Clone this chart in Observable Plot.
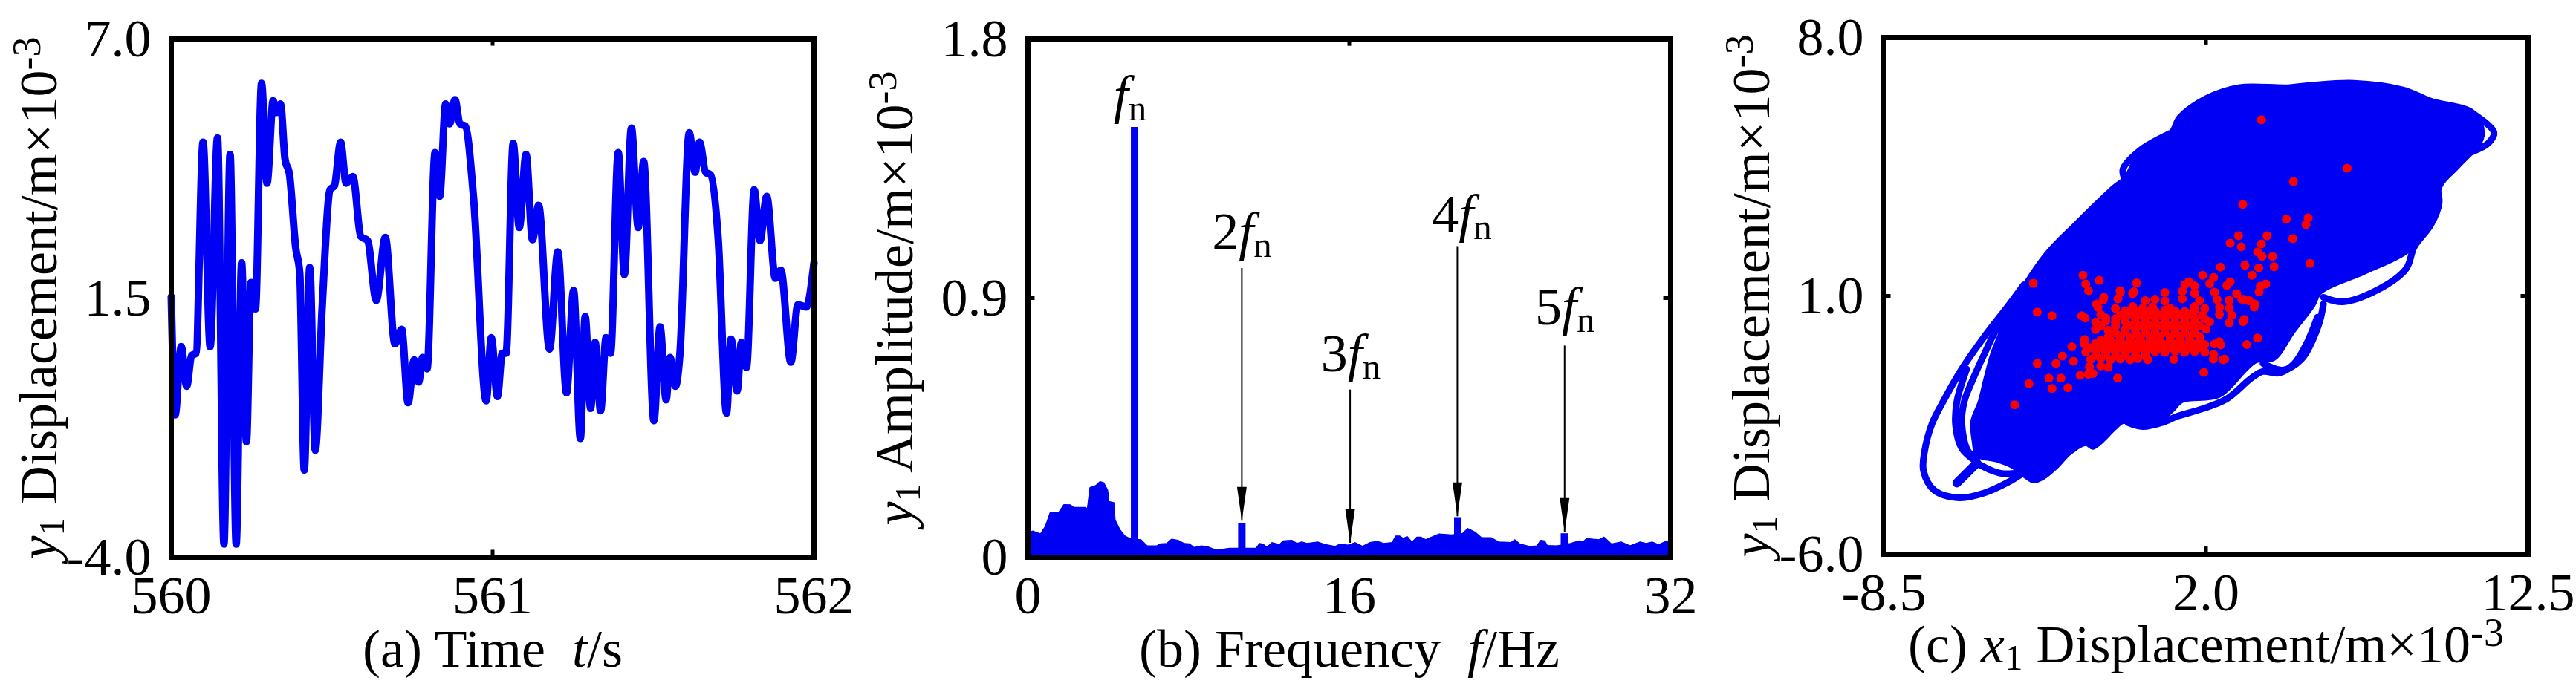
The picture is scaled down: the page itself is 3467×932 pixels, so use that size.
<!DOCTYPE html>
<html><head><meta charset="utf-8">
<script src="https://cdn.jsdelivr.net/npm/d3@7"></script>
<script src="https://cdn.jsdelivr.net/npm/@observablehq/plot@0.6"></script>
<style>
html,body{margin:0;padding:0;background:#fff}
#row{display:flex;width:3467px;height:932px;overflow:hidden}
svg{display:block;flex:none;font-family:"Liberation Serif",serif;color:#000}
</style></head><body><div id="row"></div>
<script>
const BLUE = "#0000f5", RED = "#ff0000";

// (a) time series: [t, y1]
const timeSeries = [[560,1.53],[560.012,-0.98],[560.031,0.47],[560.048,-0.37],[560.063,0.28],[560.077,0.33],[560.099,4.81],[560.121,0.47],[560.144,4.90],[560.164,-3.72],[560.183,4.55],[560.202,-3.72],[560.219,2.25],[560.234,-1.55],[560.248,1.83],[560.262,1.27],[560.281,6.06],[560.298,3.94],[560.317,5.69],[560.327,5.44],[560.340,5.62],[560.354,4.45],[560.368,4.12],[560.387,2.58],[560.400,2.02],[560.414,-2.15],[560.431,2.15],[560.448,-1.73],[560.470,1.36],[560.494,3.80],[560.508,3.89],[560.527,4.81],[560.544,3.94],[560.565,4.08],[560.590,2.81],[560.611,2.72],[560.638,1.45],[560.666,2.79],[560.696,0.53],[560.717,0.84],[560.737,-0.72],[560.756,0.19],[560.770,-0.28],[560.782,0.24],[560.796,0.00],[560.821,4.59],[560.835,3.66],[560.854,5.62],[560.866,5.20],[560.883,5.71],[560.898,5.20],[560.915,5.15],[560.941,3.61],[560.980,-0.68],[560.996,0.66],[561.015,-0.59],[561.030,0.33],[561.042,0.33],[561.064,4.78],[561.083,3.00],[561.104,4.55],[561.124,2.74],[561.143,3.47],[561.177,0.42],[561.203,2.48],[561.230,-0.51],[561.252,1.66],[561.273,-1.48],[561.288,1.11],[561.305,-0.84],[561.319,0.56],[561.336,-0.89],[561.353,0.66],[561.367,0.33],[561.391,4.59],[561.410,2.00],[561.432,5.11],[561.453,3.00],[561.470,4.40],[561.502,-1.10],[561.521,0.89],[561.540,-0.66],[561.552,0.24],[561.569,-0.37],[561.583,0.33],[561.612,5.01],[561.630,4.17],[561.644,4.81],[561.663,4.17],[561.678,4.12],[561.702,2.76],[561.728,-0.94],[561.742,0.63],[561.761,-0.47],[561.774,0.56],[561.790,0.03],[561.814,3.80],[561.832,2.72],[561.853,3.66],[561.880,1.92],[561.897,2.09],[561.928,0.14],[561.950,1.36],[561.976,1.31],[562,2.25]];

// (b) spectrum envelope: [f, amplitude]
const spectrum = [[0,.086],[.26,.090],[.63,.080],[.88,.107],[1.12,.155],[1.55,.156],[1.80,.182],[2.11,.181],[2.29,.172],[2.85,.172],[2.97,.168],[3.10,.241],[3.40,.249],[3.59,.262],[3.77,.258],[3.96,.232],[4.02,.193],[4.27,.189],[4.33,.129],[4.57,.095],[4.82,.073],[5.13,.062],[5.62,.060],[5.93,.039],[6.42,.039],[6.61,.046],[6.92,.047],[7.16,.062],[7.47,.058],[7.78,.047],[8.03,.046],[8.27,.033],[8.64,.039],[9.01,.034],[9.38,.024],[10.0,.030],[10.49,.030],[10.99,.030],[11.36,.030],[11.54,.047],[11.73,.043],[11.91,.034],[12.16,.050],[12.53,.043],[12.71,.056],[13.15,.058],[13.39,.047],[13.64,.052],[13.89,.047],[14.44,.052],[14.81,.043],[15.3,.037],[15.55,.045],[15.92,.041],[16.29,.050],[16.66,.037],[17.03,.050],[17.4,.054],[17.71,.047],[18.14,.050],[18.32,.073],[18.51,.073],[18.69,.064],[18.88,.071],[19.12,.051],[19.37,.069],[19.56,.069],[19.8,.060],[20.48,.080],[21.1,.077],[21.65,.082],[21.9,.099],[22.27,.086],[22.58,.067],[23.07,.067],[23.44,.052],[24.06,.050],[24.24,.060],[24.49,.045],[24.98,.037],[25.35,.039],[25.54,.058],[25.72,.056],[25.85,.040],[26.34,.039],[27.02,.047],[27.45,.056],[27.63,.052],[27.82,.064],[28.44,.060],[28.68,.069],[29.05,.045],[29.55,.052],[29.98,.039],[30.47,.052],[30.78,.047],[31.09,.052],[31.4,.043],[31.83,.056],[32,.052]];
const peaks = [[5.31,1.493],[10.65,.116],[21.4,.138],[26.71,.082]];
const arrows = [[10.65,1.003,.126],[16.04,.581,.049],[21.38,1.079,.141],[26.72,.734,.087]];
const harmonicLabels = [[5.09,1.544,"{f}_[n]"],[10.65,1.069,"2{f}_[n]"],[16.07,.647,"3{f}_[n]"],[21.6,1.13,"4{f}_[n]"],[26.74,.808,"5{f}_[n]"]];

// (c) phase portrait: filled body and loops, [x1, y1]
const phaseBody = [[-5.47,-3.33],[-5.59,-2.93],[-5.63,-2.39],[-5.39,-1.86],[-5.23,-1.32],[-4.99,-0.58],[-4.67,0.09],[-4.34,0.69],[-3.94,1.30],[-3.21,2.17],[-2.32,2.93],[-1.06,3.94],[-0.62,4.24],[-0.17,4.96],[0.82,5.43],[1.09,5.85],[1.98,6.39],[3.06,6.69],[4.67,6.69],[5.39,6.75],[6.82,6.81],[8.43,6.63],[9.33,6.33],[10.76,5.97],[11.03,5.31],[10.22,4.48],[9.69,4.00],[9.33,2.93],[8.61,2.21],[7.18,1.62],[5.74,1.08],[5.51,0.73],[4.86,0.02],[4.22,-0.72],[3.65,-0.78],[3.33,-0.99],[2.44,-1.72],[1.23,-1.86],[0.91,-2.12],[0.42,-2.46],[-0.06,-2.53],[-0.47,-2.46],[-0.71,-2.43],[-0.95,-2.59],[-1.68,-3.13],[-1.92,-3.03],[-2.41,-3.26],[-2.89,-3.67],[-3.29,-3.94],[-3.62,-4.04],[-3.86,-3.93],[-4.34,-3.63],[-4.83,-3.47]];
const loopA = [[-4.02,-3.83],[-4.50,-4.07],[-5.23,-4.34],[-6.04,-4.47],[-6.85,-4.27],[-7.21,-3.73],[-7.17,-3.20],[-6.93,-2.46],[-6.52,-1.79],[-5.96,-0.98],[-5.23,-0.11],[-4.42,0.76],[-3.94,1.30]];
const loopB = [[-5.47,-3.50],[-5.96,-3.13],[-6.16,-2.53],[-6.12,-1.86],[-5.80,-0.98]];
const loopB2 = [[-4.34,0.62],[-4.83,0.09],[-5.23,-0.58],[-5.63,-1.32],[-5.88,-1.86],[-5.96,-2.46],[-5.76,-3.20],[-5.47,-3.40]];
const loopThin = [[-5.47,-3.53],[-4.99,-3.73],[-4.66,-3.81],[-4.10,-3.80]];
const loopC = [[5.83,0.96],[6.46,0.84],[7.54,1.14],[8.52,1.73],[8.79,2.33],[9.33,2.93],[9.60,3.52],[9.51,4.00]];
const loopD = [[5.83,0.78],[5.66,0.18],[5.12,-0.71],[4.49,-1.01],[3.86,-0.83]];
const loopE = [[-0.62,4.12],[-0.71,4.42],[-0.17,4.93],[0.82,5.40]];
const loopF = [[10.76,5.91],[11.39,5.43],[11.21,5.14],[10.67,4.90]];
const loopG = [[-0.55,-2.43],[-0.06,-2.54],[0.58,-2.43],[1.07,-2.26],[1.88,-2.06],[2.68,-1.79],[3.49,-1.22],[3.85,-1.05],[4.38,-1.09],[4.86,-0.85],[5.27,-0.31],[5.63,0.42]];
const phaseLoops = [loopA, loopB, loopB2, loopThin, loopC, loopD, loopE, loopF, loopG];
const tail = [[-6.12,-4.07],[-5.47,-3.53]];

// (c) red section points: [x1, y1]
const sectionOuter = [[3.81,5.77],[6.60,4.46],[4.85,4.10],[3.20,3.48],[4.62,3.08],[5.33,3.11],[5.26,2.93],[4.83,2.55],[5.39,1.88],[3.06,2.63],[2.79,2.43],[3.15,2.33],[3.99,2.63],[3.81,2.41],[3.68,2.19],[4.17,2.07],[3.83,2.07],[4.22,1.79],[3.72,1.76],[2.47,1.78],[3.27,1.83],[3.50,1.56],[3.77,1.26],[3.95,1.32],[2.25,1.50],[1.89,1.56],[2.79,1.38],[1.44,1.38],[-0.26,1.35],[-1.48,1.42],[-2.01,1.56],[-3.63,1.34],[-1.92,1.32],[-1.83,1.14],[-3.50,0.56],[-3.02,0.46],[-2.05,0.46],[-1.94,0.40],[-1.57,0.78],[-1.33,0.96],[-0.80,1.14],[-0.35,1.11],[3.68,-0.14],[3.33,-0.32],[2.61,-0.71],[2.25,-0.59],[2.43,-0.24],[1.93,-1.07],[-0.88,-1.23],[3.24,0.36],[3.59,0.78],[3.24,0.90],[-2.50,-1.49],[-3.02,-1.51],[-2.73,-1.23],[-3.12,-1.23],[-3.77,-1.38],[-4.24,-1.95],[-3.50,-0.83],[-2.89,-0.83],[-2.68,-0.63],[-2.32,-0.77],[-2.37,-0.38],[-2.10,-1.15],[-1.96,-0.18]];
const sectionCore = [[1.31,1.30],[1.63,1.27],[2.12,1.33],[2.68,1.28],[-0.79,1.09],[-0.39,1.06],[0.66,1.09],[1.23,1.12],[1.63,1.07],[2.28,1.10],[3.00,1.06],[3.73,1.11],[-1.35,0.89],[-0.87,0.92],[0.02,0.87],[0.34,0.91],[0.66,0.86],[1.23,0.92],[1.79,0.87],[2.36,0.90],[2.76,0.88],[3.17,0.91],[3.41,0.87],[-1.52,0.69],[-0.95,0.66],[-0.39,0.71],[-0.06,0.67],[0.26,0.70],[0.83,0.67],[1.63,0.71],[1.96,0.66],[2.44,0.69],[2.76,0.67],[3.57,0.70],[-1.43,0.49],[-0.79,0.47],[-0.47,0.51],[-0.14,0.48],[0.18,0.50],[0.50,0.47],[0.83,0.51],[1.15,0.48],[1.47,0.50],[1.88,0.47],[2.44,0.50],[2.84,0.47],[-1.60,0.29],[-1.27,0.31],[-0.95,0.28],[-0.63,0.30],[-0.30,0.28],[0.02,0.31],[0.34,0.28],[0.66,0.30],[0.99,0.28],[1.31,0.31],[1.63,0.28],[2.12,0.30],[2.76,0.27],[3.21,0.30],[-1.60,0.09],[-1.19,0.07],[-0.63,0.10],[-0.30,0.08],[0.02,0.11],[0.34,0.08],[0.66,0.10],[0.99,0.07],[1.31,0.10],[1.63,0.08],[2.00,0.10],[-1.19,-0.11],[-0.79,-0.09],[-0.47,-0.12],[-0.14,-0.10],[0.18,-0.13],[0.50,-0.10],[0.83,-0.12],[1.15,-0.09],[1.47,-0.12],[1.79,-0.10],[-1.96,-0.31],[-1.60,-0.29],[-1.27,-0.32],[-0.95,-0.30],[-0.63,-0.33],[-0.30,-0.30],[0.02,-0.32],[0.34,-0.29],[0.66,-0.32],[0.99,-0.30],[1.31,-0.33],[1.63,-0.30],[1.96,-0.32],[2.28,-0.30],[2.48,-0.33],[-1.92,-0.52],[-1.60,-0.50],[-1.27,-0.53],[-0.95,-0.51],[-0.63,-0.53],[-0.30,-0.50],[0.02,-0.53],[0.34,-0.51],[0.66,-0.53],[0.99,-0.50],[1.31,-0.53],[1.63,-0.51],[1.96,-0.53],[-1.76,-0.72],[-1.43,-0.70],[-1.11,-0.73],[-0.79,-0.71],[-0.47,-0.73],[-0.22,-0.70],[0.10,-0.73],[0.95,-0.72],[2.24,-0.71],[2.56,-0.73],[-1.80,-0.92],[-1.43,-0.90],[-1.19,-0.93],[-1.84,-1.12],[-1.68,-1.10]];
const sectionDense = [[-0.63,0.60],[-0.30,0.58],[0.02,0.61],[0.34,0.59],[0.66,0.62],[0.99,0.60],[1.31,0.58],[1.63,0.60],[-1.27,0.40],[-0.95,0.38],[-0.63,0.41],[-0.30,0.39],[0.02,0.38],[0.34,0.40],[0.66,0.39],[0.99,0.41],[1.31,0.38],[1.63,0.40],[1.96,0.38],[-1.43,0.19],[-0.95,0.18],[-0.47,0.20],[-0.14,0.18],[0.18,0.20],[0.50,0.19],[0.83,0.18],[1.15,0.20],[1.47,0.18],[1.79,0.19],[-0.95,-0.01],[-0.63,0.01],[-0.30,-0.02],[0.02,0.00],[0.34,-0.01],[0.66,0.01],[0.99,-0.02],[1.31,0.00],[1.63,-0.01],[-1.43,-0.20],[-1.11,-0.21],[-0.79,-0.19],[-0.47,-0.22],[-0.14,-0.20],[0.18,-0.21],[0.50,-0.19],[0.83,-0.22],[1.15,-0.20],[1.47,-0.21],[1.79,-0.19],[-1.76,-0.41],[-1.43,-0.40],[-1.11,-0.42],[-0.79,-0.41],[-0.47,-0.42],[-0.14,-0.40],[0.18,-0.41],[0.50,-0.42],[0.83,-0.40],[1.15,-0.42],[1.47,-0.41],[1.79,-0.40],[-1.60,-0.62],[-1.27,-0.61],[-0.95,-0.63],[-0.63,-0.62],[-0.30,-0.61],[0.02,-0.63]];

const serif = '"Liberation Serif", serif';
const fontSize = 72;

function axes(xTicks, yTicks, xFmt, yFmt, xLabel, yLabel, xOff, yOff) {
  return [
    Plot.axisX({ticks: xTicks, tickFormat: xFmt, tickSize: 0, tickPadding: 24, fontSize,
      label: xLabel, labelAnchor: "center", labelArrow: "none", labelOffset: xOff}),
    Plot.axisY({ticks: yTicks, tickFormat: yFmt, tickSize: 0, tickPadding: 27, fontSize,
      label: yLabel, labelAnchor: "center", labelArrow: "none", labelOffset: yOff})
  ];
}
const fix1 = d => d.toFixed(1);
const whole = d => String(d);

const plotA = Plot.plot({
  width: 1156, height: 932, marginLeft: 230, marginRight: 61, marginTop: 52, marginBottom: 182,
  style: {background: "#fff", fontFamily: serif},
  x: {domain: [560, 562]}, y: {domain: [-4, 7]},
  marks: [
    Plot.line(timeSeries, {stroke: BLUE, strokeWidth: 10, curve: "monotone-x", strokeLinejoin: "round"}),
    Plot.ruleX([561], {y1: 6.85, y2: 7, strokeWidth: 5}),
    Plot.ruleX([561], {y1: -4, y2: -3.85, strokeWidth: 5}),
    ...axes([560, 561, 562], [-4, 1.5, 7], whole, fix1, "(a) Time  {t}/s", "{y}_[1] Displacement/m×10^[-3]", 147, 206),
    Plot.frame({stroke: "#000", strokeWidth: 7})
  ]
});

const plotB = Plot.plot({
  width: 1156, height: 932, marginLeft: 227, marginRight: 64, marginTop: 52, marginBottom: 182,
  style: {background: "#fff", fontFamily: serif},
  x: {domain: [0, 32]}, y: {domain: [0, 1.8]},
  marks: [
    Plot.areaY(spectrum, {x: "0", y: "1", fill: BLUE}),
    Plot.line(spectrum, {stroke: BLUE, strokeWidth: 2}),
    Plot.ruleX(peaks, {x: "0", y1: 0, y2: "1", stroke: BLUE, strokeWidth: 10}),
    Plot.ruleX(arrows, {x: "0", y1: "1", y2: "2", stroke: "#000", strokeWidth: 2}),
    Plot.vector(arrows, {x: "0", y: "2", anchor: "start", length: 46, stroke: "none", fill: "#000",
      shape: {draw(ctx, l) { ctx.moveTo(0, 0); ctx.lineTo(-6.5, -l); ctx.lineTo(6.5, -l); ctx.closePath(); }}}),
    Plot.text(harmonicLabels, {x: "0", y: "1", text: "2", fontSize, lineAnchor: "bottom", fill: "#000"}),
    Plot.ruleX([16], {y1: 1.775, y2: 1.8, strokeWidth: 5}),
    Plot.ruleY([0.9], {x1: 0, x2: 0.35, strokeWidth: 5}),
    Plot.ruleY([0.9], {x1: 31.65, x2: 32, strokeWidth: 5}),
    ...axes([0, 16, 32], [0, 0.9, 1.8], whole, d => d === 0 ? "0" : d.toFixed(1), "(b) Frequency  {f}/Hz", "{y}_[1] Amplitude/m×10^[-3]", 147, 207),
    Plot.frame({stroke: "#000", strokeWidth: 7})
  ]
});

const plotC = Plot.plot({
  width: 1155, height: 932, marginLeft: 223, marginRight: 65, marginTop: 50, marginBottom: 186,
  style: {background: "#fff", fontFamily: serif},
  x: {domain: [-8.5, 12.5]}, y: {domain: [-6, 8]},
  marks: [
    Plot.line(phaseBody, {fill: BLUE, stroke: BLUE, strokeWidth: 4, curve: "catmull-rom-closed"}),
    ...phaseLoops.map(l => Plot.line(l, {stroke: BLUE, strokeWidth: 9, curve: "catmull-rom"})),
    Plot.line(tail, {stroke: BLUE, strokeWidth: 12}),
    Plot.dot(sectionDense, {r: 6, fill: RED, stroke: "none"}),
    Plot.dot(sectionCore, {r: 6, fill: RED, stroke: "none"}),
    Plot.dot(sectionOuter, {r: 6, fill: RED, stroke: "none"}),
    Plot.ruleX([2], {y1: 7.8, y2: 8, strokeWidth: 5}),
    Plot.ruleX([2], {y1: -6, y2: -5.8, strokeWidth: 5}),
    Plot.ruleY([1], {x1: -8.5, x2: -8.27, strokeWidth: 5}),
    Plot.ruleY([1], {x1: 12.27, x2: 12.5, strokeWidth: 5}),
    ...axes([-8.5, 2, 12.5], [-6, 1, 8], fix1, fix1, "(c) {x}_[1] Displacement/m×10^[-3]", "{y}_[1] Displacement/m×10^[-3]", 145, 206),
    Plot.frame({stroke: "#000", strokeWidth: 7})
  ]
});

const row = document.getElementById("row");
[plotA, plotB, plotC].forEach(p => row.append(p));

// Turn the {italic}, _[sub] and ^[sup] markers in labels into real tspans.
const NS = "http://www.w3.org/2000/svg";
document.querySelectorAll("#row svg text").forEach(t => {
  const s = t.textContent;
  if (!/[{_^]/.test(s)) return;
  const fs = parseFloat(getComputedStyle(t).fontSize);
  t.textContent = "";
  let shift = 0;
  for (const m of s.matchAll(/\{([^}]*)\}|_\[([^\]]*)\]|\^\[([^\]]*)\]|[^{_^]+/g)) {
    const span = document.createElementNS(NS, "tspan");
    let target = 0;
    if (m[1] !== undefined) { span.textContent = m[1]; span.setAttribute("font-style", "italic"); }
    else if (m[2] !== undefined) { span.textContent = m[2]; span.setAttribute("font-size", fs * 0.68); target = fs * 0.14; }
    else if (m[3] !== undefined) { span.textContent = m[3]; span.setAttribute("font-size", fs * 0.75); target = -fs * 0.3; }
    else span.textContent = m[0];
    if (target !== shift) { span.setAttribute("dy", target - shift); shift = target; }
    t.append(span);
  }
});
</script>
</body></html>
